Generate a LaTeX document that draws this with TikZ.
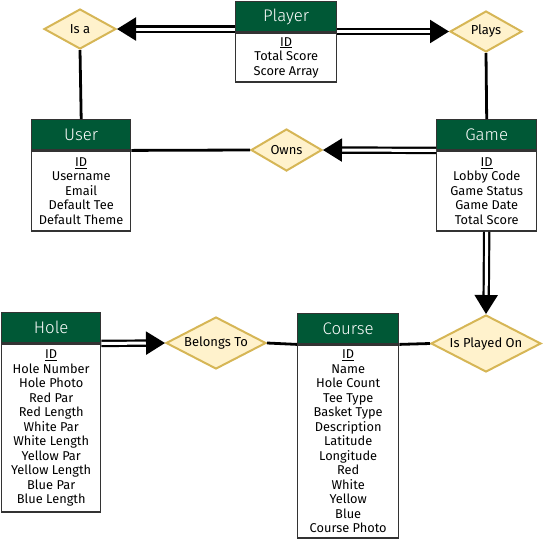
\documentclass[tikz,border=0pt]{standalone}
\usepackage{fontspec}
\setmainfont{Fira Sans}
\newfontfamily\hdrfont{Fira Sans Light}
\usetikzlibrary{shapes.geometric,arrows.meta}
\definecolor{hdrgreen}{RGB}{0,88,54}
\definecolor{dfill}{HTML}{FFF2CC}
\definecolor{dline}{HTML}{D6B656}
\definecolor{boxline}{HTML}{333333}
\tikzset{
  hdr/.style={draw=boxline, line width=1.4pt, fill=hdrgreen, text=white, inner sep=0pt,
    font=\hdrfont\fontsize{16.8}{18}\selectfont, anchor=north west},
  bodybox/.style={draw=boxline, line width=1.4pt, fill=white, inner sep=0pt, align=center,
    font=\fontsize{12.8}{14.5}\selectfont, anchor=north, text=black},
  rel/.style={diamond, draw=dline, line width=2pt, fill=dfill, inner sep=0pt,
    font=\fontsize{13}{14}\selectfont, text=black},
  plain/.style={line width=2.8pt, black},
  dbl/.style={line width=2.2pt, double=white, double distance=3pt, black,
    -{Triangle[length=19pt,width=23pt]}},
}
\begin{document}
\begin{tikzpicture}[x=1pt,y=-1pt]
\useasboundingbox (0,0) rectangle (543,542);
% entities
\node[hdr, minimum width=101, minimum height=30] (playerH) at (235,1) {Player};
\node[bodybox, minimum width=101, minimum height=49] (playerB) at (playerH.south) {\underline{ID}\\Total Score\\Score Array};
\node[hdr, minimum width=99, minimum height=30] (userH) at (31,119) {User};
\node[bodybox, minimum width=99, minimum height=80] (userB) at (userH.south) {\underline{ID}\\Username\\Email\\Default Tee\\Default Theme};
\node[hdr, minimum width=100, minimum height=30] (gameH) at (436,119) {Game};
\node[bodybox, minimum width=100, minimum height=80] (gameB) at (gameH.south) {\underline{ID}\\Lobby Code\\Game Status\\Game Date\\Total Score};
\node[hdr, minimum width=99, minimum height=30] (holeH) at (1,312) {Hole};
\node[bodybox, minimum width=99, minimum height=168] (holeB) at (holeH.south) {\underline{ID}\\Hole Number\\Hole Photo\\Red Par\\Red Length\\White Par\\White Length\\Yellow Par\\Yellow Length\\Blue Par\\Blue Length};
\node[hdr, minimum width=101, minimum height=30] (courseH) at (297,313) {Course};
\node[bodybox, minimum width=101, minimum height=193] (courseB) at (courseH.south) {\underline{ID}\\Name\\Hole Count\\Tee Type\\Basket Type\\Description\\Latitude\\Longitude\\Red\\White\\Yellow\\Blue\\Course Photo};
% relationships
\node[rel, aspect=1.8, minimum width=72, minimum height=40] (isa) at (80,29) {Is a};
\node[rel, aspect=1.76, minimum width=72, minimum height=41] (plays) at (486,31.5) {Plays};
\node[rel, aspect=1.7, minimum width=71, minimum height=42] (owns) at (286.5,150) {Owns};
\node[rel, aspect=1.92, minimum width=100, minimum height=52] (belongs) at (216,343) {Belongs To};
\node[rel, aspect=1.93, minimum width=110, minimum height=57] (played) at (486,343.5) {Is Played On};
% connectors
\draw[dbl] (playerH.west |- isa.east) -- (isa.east);
\draw[dbl] (playerH.east |- plays.west) -- (plays.west);
\draw[plain] (isa.south) -- (userH.north);
\draw[plain] (plays.south) -- (gameH.north);
\draw[plain] (userH.south east) -- (owns.west);
\draw[dbl] (gameH.south west) -- (owns.east);
\draw[dbl] (gameB.south) -- (played.north);
\draw[dbl] (holeH.south east) -- (belongs.west);
\draw[plain] (belongs.east) -- (courseH.south west);
\draw[plain] (courseH.south east) -- (played.west);
\end{tikzpicture}
\end{document}
